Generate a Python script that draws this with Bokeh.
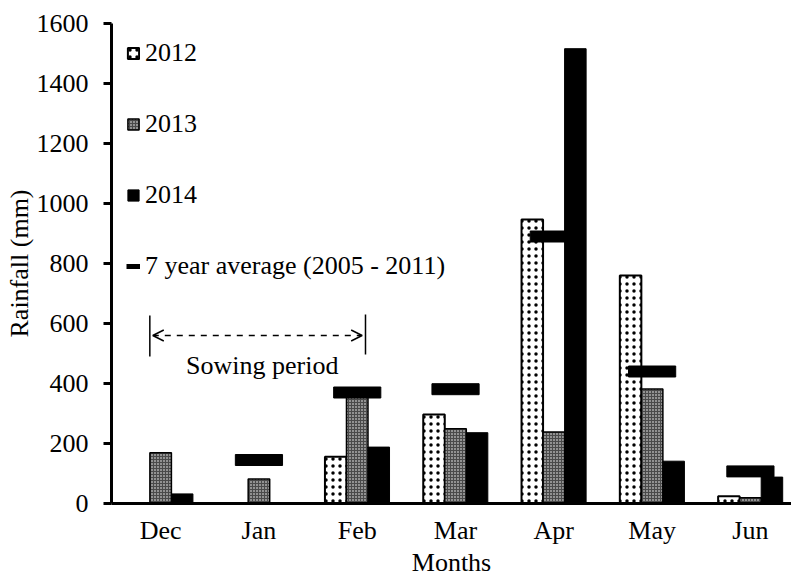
from bokeh.plotting import figure
from bokeh.models import (ColumnDataSource, Range1d, FixedTicker, Legend, LegendItem,
                          Arrow, OpenHead, Label)
from bokeh.transform import dodge
from bokeh.embed import file_html
from bokeh.resources import INLINE

months = ["Dec", "Jan", "Feb", "Mar", "Apr", "May", "Jun"]
rain_2012 = [0, 0, 156, 297, 947, 760, 24]
rain_2013 = [169, 82, 365, 249, 238, 382, 19]
rain_2014 = [32, 0, 188, 236, 1516, 141, 88]
avg_7yr = [float("nan"), 145, 370, 381, 890, 440, 107]
y_ticks = [0, 200, 400, 600, 800, 1000, 1200, 1400, 1600]

FONT = "Liberation Serif"
FS = "26px"

xi = [i + 0.5 for i in range(len(months))]
src = ColumnDataSource(dict(x=xi, r12=rain_2012, r13=rain_2013, r14=rain_2014, avg=avg_7yr))

p = figure(width=791, height=579, output_backend="svg", toolbar_location=None,
           x_range=Range1d(0, 6.918), y_range=Range1d(0, 1600),
           min_border_left=111, min_border_right=0, min_border_top=23, min_border_bottom=76)
p.outline_line_color = None
p.grid.visible = False

BW = 0.219
r12 = p.vbar(x=dodge("x", -BW, range=p.x_range), top="r12", width=BW, source=src,
             fill_color="white", line_color="black", line_width=2,
             hatch_pattern="dot", hatch_color="black", hatch_scale=7, hatch_weight=0.4)
r13 = p.vbar(x="x", top="r13", width=BW, source=src,
             fill_color="#4a4a4a", line_color="black", line_width=1.5,
             hatch_pattern="dot", hatch_color="white", hatch_scale=3, hatch_weight=1.3)
r14 = p.vbar(x=dodge("x", BW, range=p.x_range), top="r14", width=BW, source=src,
             fill_color="black", line_color="black", line_width=1)
ravg = p.rect(x="x", y="avg", width=0.48, height=11, height_units="screen", source=src,
              fill_color="black", line_color="black")
dummy = p.line(x=[float("nan"), float("nan")], y=[float("nan"), float("nan")],
               line_color="black", line_width=5)

legend = Legend(items=[LegendItem(label="2012", renderers=[r12]),
                       LegendItem(label="2013", renderers=[r13]),
                       LegendItem(label="2014", renderers=[r14]),
                       LegendItem(label="7 year average (2005 - 2011)", renderers=[dummy])],
                location="top_left", margin=15, padding=14, spacing=41,
                glyph_width=14, glyph_height=14, label_height=30, label_standoff=5,
                label_text_font=FONT, label_text_font_size=FS, label_text_color="black",
                background_fill_alpha=0, border_line_color=None)
p.add_layout(legend, "center")

# Sowing period annotation
p.segment(x0=[0.39, 2.584], y0=[490, 497], x1=[0.39, 2.584], y1=[627, 630],
          line_color="black", line_width=1.5)
p.add_layout(Arrow(start=OpenHead(size=11, line_width=1.5), end=OpenHead(size=11, line_width=1.5),
                   x_start=0.42, y_start=560, x_end=2.55, y_end=560,
                   line_dash="dashed", line_width=1.5))
p.add_layout(Label(x=1.533, y=460, text="Sowing period", text_align="center",
                   text_baseline="middle", text_font=FONT, text_font_size=FS,
                   text_color="black"))

# Axes
xa = p.xaxis[0]
xa.ticker = FixedTicker(ticks=xi)
xa.major_label_overrides = {v: m for v, m in zip(xi, months)}
xa.major_tick_out = 0
xa.major_tick_in = 0
xa.minor_tick_line_color = None
xa.axis_line_width = 3
xa.axis_line_color = "black"
xa.major_label_standoff = 12
xa.axis_label = "Months"
xa.axis_label_standoff = 0

ya = p.yaxis[0]
ya.ticker = FixedTicker(ticks=y_ticks)
ya.major_tick_out = 8
ya.major_tick_in = 0
ya.major_tick_line_width = 3
ya.minor_tick_line_color = None
ya.axis_line_width = 3
ya.major_label_standoff = 15
ya.axis_label = "Rainfall (mm)"
ya.axis_label_standoff = 0

for ax in (xa, ya):
    ax.major_label_text_font = FONT
    ax.major_label_text_font_size = FS
    ax.major_label_text_color = "black"
    ax.axis_label_text_font = FONT
    ax.axis_label_text_font_size = FS
    ax.axis_label_text_font_style = "normal"
    ax.axis_label_text_color = "black"

open("out.html", "w").write(file_html(p, INLINE))
